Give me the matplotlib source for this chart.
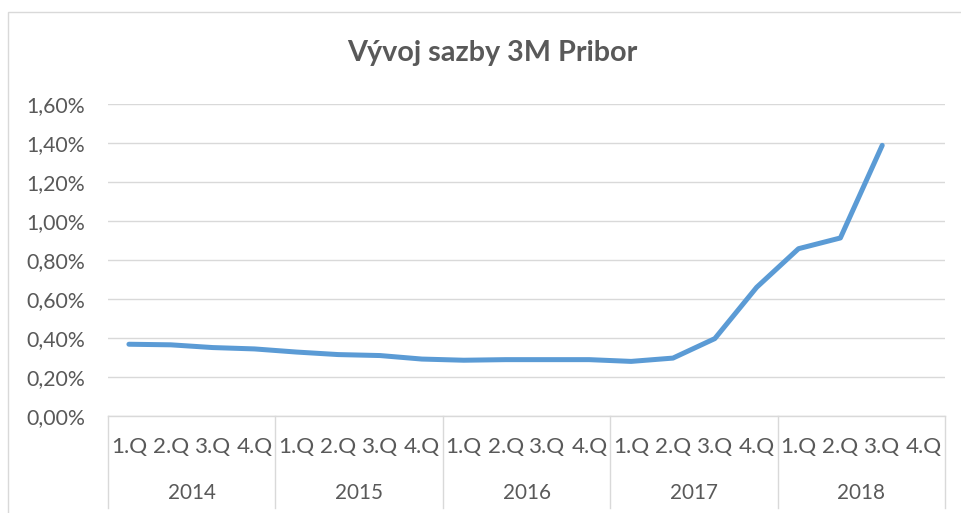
import matplotlib
matplotlib.use("Agg")
import matplotlib.pyplot as plt
import matplotlib.transforms as mtransforms
from matplotlib.patches import Rectangle
from matplotlib.ticker import FuncFormatter, MultipleLocator

years = ["2014", "2015", "2016", "2017", "2018"]
quarters = ["1.Q", "2.Q", "3.Q", "4.Q"]
rates = [0.368, 0.365, 0.351, 0.344,
         0.328, 0.315, 0.310, 0.292,
         0.286, 0.289, 0.289, 0.289,
         0.280, 0.297, 0.397, 0.660,
         0.858, 0.913, 1.388]

title = "Vývoj sazby 3M Pribor"
txt = "#595959"
grid = "#d9d9d9"
blue = "#5B9BD5"

plt.rcParams['font.family'] = ['Lato', 'DejaVu Sans']

fig = plt.figure(figsize=(9.61, 5.13), dpi=100)
W, H = 961, 513
renderer = fig.canvas.get_renderer()


def fit_size(s, target_px, weight='normal'):
    t = fig.text(0, 0, s, fontsize=10, fontweight=weight)
    w = t.get_window_extent(renderer).width
    t.remove()
    return 10 * target_px / w


fs_tick = fit_size("1,60%", 59)
fs_q = fit_size("1.Q", 36)
fs_year = fit_size("2014", 48)
fs_title = fit_size(title, 290, 'bold')

ax = fig.add_axes([108 / W, 1 - 416 / H, (945 - 108) / W, (416 - 104) / H])

n = len(years) * len(quarters)
ax.plot(range(len(rates)), rates, color=blue, lw=3.6, solid_capstyle='round',
        solid_joinstyle='round', zorder=3)

ax.set_xlim(-0.5, n - 0.5)
ax.set_ylim(0, 1.6)
ax.yaxis.set_major_locator(MultipleLocator(0.2))
ax.yaxis.set_major_formatter(FuncFormatter(lambda v, p: f"{v:.2f}%".replace('.', ',')))
ax.grid(axis='y', color=grid, lw=1.0)
ax.set_axisbelow(True)
for s in ['top', 'right', 'left']:
    ax.spines[s].set_visible(False)
ax.spines['bottom'].set_color(grid)
ax.spines['bottom'].set_linewidth(1.0)
ax.tick_params(axis='y', length=0, labelsize=fs_tick, labelcolor=txt, pad=23 * 0.72)
ax.set_xticks([])

trans = mtransforms.blended_transform_factory(ax.transData, ax.transAxes)
bottom = (416 - 508) / (416 - 104)
for i in range(len(years) + 1):
    xb = i * len(quarters) - 0.5
    ax.plot([xb, xb], [0, bottom], transform=trans, color=grid, lw=1.0, clip_on=False)
qy = (416 - 447) / (416 - 104)
yy = (416 - 493) / (416 - 104)
for i in range(n):
    ax.text(i, qy, quarters[i % 4], transform=trans, ha='center', va='center',
            fontsize=fs_q, color=txt)
for j, y in enumerate(years):
    ax.text(j * 4 + 1.5, yy, y, transform=trans, ha='center', va='center',
            fontsize=fs_year, color=txt)

fig.text(492 / W, 1 - 53 / H, title, ha='center', va='center', fontsize=fs_title,
         fontweight='bold', color=txt)

fig.patches.append(Rectangle((8 / W, -0.1), 2, 1.1 - 12 / H, transform=fig.transFigure,
                             fill=False, edgecolor=grid, lw=1.0))

fig.savefig("out.png", dpi=100)
